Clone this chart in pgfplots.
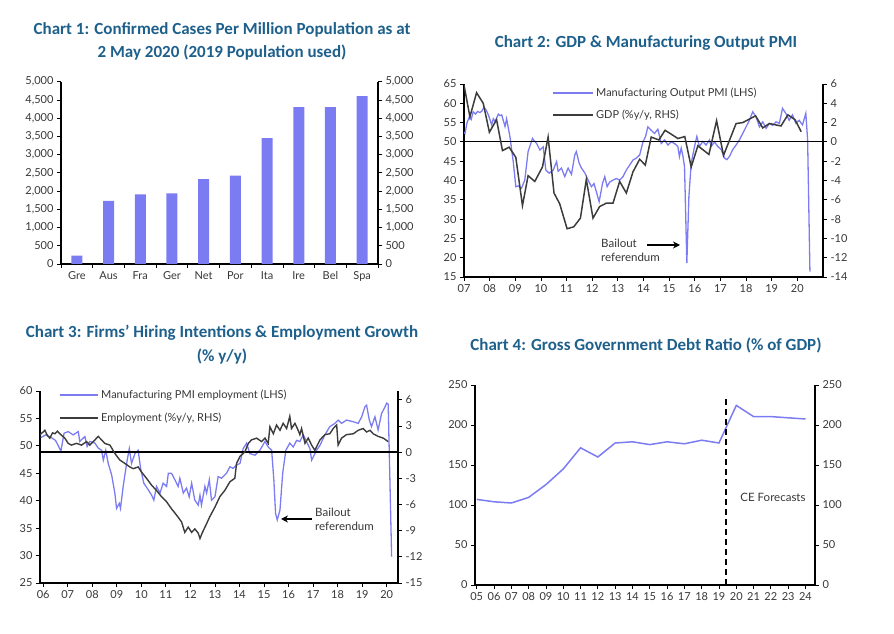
\documentclass[border=0pt]{standalone}
\usepackage{fontspec}
\setmainfont{Lato}
\newfontfamily\titlefont{Carlito}
\usepackage{pgfplots}
\pgfplotsset{compat=1.18}
\usetikzlibrary{arrows.meta}

\definecolor{titleblue}{RGB}{30,96,140}
\definecolor{ceblue}{RGB}{124,124,242}
\definecolor{cegrey}{RGB}{60,60,60}
\definecolor{ticktext}{RGB}{55,55,55}

\pgfplotsset{
  ce/.style={
    scale only axis, anchor=south west,
    axis line style={line width=1.1pt, black},
    tick style={black, line width=0.8pt},
    tick align=outside, major tick length=4pt, minor tick length=4pt,
    tick label style={font=\fontsize{11}{12}\selectfont, text=ticktext},
    /pgf/number format/assume math mode=true,
    /pgf/number format/1000 sep={,},
    scaled ticks=false,
  },
  ceright/.style={ce, axis y line*=right, axis x line=none},
}

\begin{document}
\begin{tikzpicture}
\useasboundingbox (0,0) rectangle (894pt,634pt);

% ---------------- Chart 1 ----------------
\node[font=\titlefont\bfseries\fontsize{17}{23}\selectfont, text=titleblue, align=center]
  at (222pt,593pt) {Chart 1: Confirmed Cases Per Million Population as at\\2 May 2020 (2019 Population used)};

\begin{axis}[ce, at={(61pt,370pt)}, width=317pt, height=182.3pt,
  axis y line*=left, axis x line*=bottom,
  xmin=-0.5, xmax=9.5, ymin=0, ymax=5000,
  ytick={0,500,...,5000},
  xtick={0,...,9},
  xticklabels={Gre,Aus,Fra,Ger,Net,Por,Ita,Ire,Bel,Spa},
  major x tick style={draw=none},
  minor xtick={-0.5,0.5,...,9.5},
]
\addplot[ybar, bar width=11pt, fill=ceblue, draw=none] coordinates {
  (0,229) (1,1728) (2,1910) (3,1938) (4,2331)
  (5,2422) (6,3455) (7,4305) (8,4305) (9,4607)
};
\end{axis}
\begin{axis}[ceright, at={(61pt,370pt)}, width=317pt, height=182.3pt,
  xmin=-0.5, xmax=9.5, ymin=0, ymax=5000, ytick={0,500,...,5000}]
\addplot[draw=none] coordinates {(0,0)};
\end{axis}

% ---------------- Chart 2 ----------------
\node[font=\titlefont\bfseries\fontsize{17}{20}\selectfont, text=titleblue]
  at (646pt,591pt) {Chart 2: GDP \& Manufacturing Output PMI};

\begin{axis}[ce, at={(464pt,357pt)}, width=359pt, height=193pt,
  axis y line*=left, axis x line*=bottom,
  xmin=2007, xmax=2021, ymin=15, ymax=65,
  ytick={15,20,...,65},
  xtick={2007,...,2020},
  xticklabels={07,08,09,10,11,12,13,14,15,16,17,18,19,20},
]
\addplot[ceblue, line width=1.3pt] coordinates {
  (2007.00,52.5) (2007.04,52.2) (2007.12,55.0) (2007.21,56.5) (2007.28,55.8) (2007.36,57.8)
  (2007.45,57.2) (2007.53,57.9) (2007.62,57.6) (2007.70,58.0) (2007.78,59.0) (2007.86,58.3)
  (2007.95,57.0) (2008.08,54.4) (2008.14,56.0) (2008.21,55.3) (2008.34,57.2) (2008.40,56.8)
  (2008.47,57.0) (2008.60,54.0) (2008.66,56.0) (2008.79,51.4) (2008.92,44.9) (2009.02,38.4)
  (2009.12,38.6) (2009.24,38.0) (2009.37,40.1) (2009.50,47.5) (2009.67,50.9) (2009.75,50.2)
  (2009.83,49.6) (2009.96,47.9) (2010.09,48.7) (2010.19,42.7) (2010.32,41.9) (2010.48,42.7)
  (2010.61,44.9) (2010.67,42.4) (2010.80,43.2) (2010.93,41.0) (2011.06,43.2) (2011.19,41.6)
  (2011.32,46.6) (2011.38,47.5) (2011.49,44.5) (2011.58,43.2) (2011.71,42.0) (2011.84,40.1)
  (2011.97,38.4) (2012.07,39.2) (2012.16,37.1) (2012.27,34.5) (2012.40,39.2) (2012.49,41.0)
  (2012.58,38.4) (2012.68,39.6) (2012.81,40.1) (2012.94,40.5) (2013.07,40.1) (2013.20,41.0)
  (2013.33,42.7) (2013.46,44.0) (2013.59,45.3) (2013.72,45.8) (2013.85,46.6) (2013.98,50.0)
  (2014.08,51.4) (2014.17,53.9) (2014.30,53.0) (2014.43,52.2) (2014.56,53.3) (2014.69,49.6)
  (2014.82,50.5) (2014.95,49.2) (2015.08,50.0) (2015.21,49.6) (2015.34,48.8) (2015.40,46.2)
  (2015.47,48.4) (2015.53,46.6) (2015.60,43.6) (2015.69,18.6) (2015.77,35.8) (2015.86,44.5)
  (2015.99,48.8) (2016.08,51.4) (2016.18,48.8) (2016.31,50.1) (2016.44,49.2) (2016.57,50.5)
  (2016.64,48.8) (2016.77,50.0) (2016.90,48.8) (2017.03,48.0) (2017.16,45.8) (2017.25,45.4)
  (2017.35,46.2) (2017.48,48.0) (2017.61,49.2) (2017.74,50.5) (2017.87,52.2) (2018.00,53.9)
  (2018.13,55.6) (2018.26,57.8) (2018.39,56.5) (2018.52,53.9) (2018.65,55.2) (2018.78,53.5)
  (2018.91,54.8) (2019.04,54.3) (2019.17,55.2) (2019.30,54.8) (2019.42,58.7) (2019.55,57.4)
  (2019.68,55.6) (2019.81,57.0) (2019.94,54.8) (2020.07,55.6) (2020.20,54.4) (2020.33,57.4)
  (2020.40,50.5) (2020.49,16.4)
};
\end{axis}
\begin{axis}[ceright, at={(464pt,357pt)}, width=359pt, height=193pt,
  xmin=2007, xmax=2021, ymin=-14, ymax=6, ytick={-14,-12,...,6}]
\addplot[black, line width=1.2pt] coordinates {(2007,0) (2021,0)};
\addplot[cegrey, line width=1.5pt] coordinates {
  (2007.00,5.9) (2007.23,2.6) (2007.49,5.1) (2007.75,4.0) (2007.99,1.0) (2008.27,2.3)
  (2008.50,-0.9) (2008.76,-0.55) (2009.02,-1.6) (2009.28,-6.6) (2009.50,-3.5) (2009.76,-4.1)
  (2010.06,-2.6) (2010.28,0.5) (2010.51,-5.3) (2010.73,-6.4) (2011.02,-9.0) (2011.28,-8.8)
  (2011.54,-7.9) (2011.77,-3.9) (2012.03,-7.9) (2012.29,-6.7) (2012.55,-6.35) (2012.81,-6.35)
  (2013.07,-4.1) (2013.33,-5.3) (2013.59,-3.1) (2013.85,-1.8) (2014.07,-2.4) (2014.30,0.5)
  (2014.60,0.2) (2014.84,1.2) (2015.08,0.8) (2015.34,0.35) (2015.61,0.55) (2015.86,-2.6)
  (2016.12,-0.4) (2016.55,-1.3) (2016.85,2.2) (2017.12,-1.4) (2017.61,1.9) (2017.87,2.0)
  (2018.37,2.7) (2018.65,1.45) (2018.91,1.9) (2019.36,1.65) (2019.63,2.8) (2019.91,2.3)
  (2020.15,1.05)
};
\end{axis}
\draw[ceblue, line width=1.3pt] (553pt,541pt) -- (593pt,541pt);
\node[anchor=west, font=\fontsize{11}{12}\selectfont, text=ticktext, inner sep=1pt] at (595pt,541pt) {Manufacturing Output PMI (LHS)};
\draw[cegrey, line width=1.5pt] (553pt,519pt) -- (593pt,519pt);
\node[anchor=west, font=\fontsize{11}{12}\selectfont, text=ticktext, inner sep=1pt] at (595pt,519pt) {GDP (\%y/y, RHS)};
\node[anchor=west, align=left, font=\fontsize{11.5}{14}\selectfont, text=ticktext, inner sep=0pt] at (601pt,384pt) {Bailout\\referendum};
\draw[black, line width=1.4pt, -{Stealth[length=7pt,width=7pt]}] (647pt,389pt) -- (680pt,389pt);

% ---------------- Chart 3 ----------------
\node[font=\titlefont\bfseries\fontsize{17}{24}\selectfont, text=titleblue, align=center]
  at (222pt,289pt) {Chart 3: Firms’ Hiring Intentions \& Employment Growth\\(\% y/y)};

\begin{axis}[ce, at={(40pt,51pt)}, width=358pt, height=192pt,
  axis y line*=left, axis x line*=bottom,
  xmin=2005.87, xmax=2020.46, ymin=25, ymax=60,
  ytick={25,30,...,60},
  xtick={2006,...,2020},
  xticklabels={06,07,08,09,10,11,12,13,14,15,16,17,18,19,20},
]
\addplot[ceblue, line width=1.3pt] coordinates {
  (2005.90,51.5) (2006.10,52.0) (2006.30,51.6) (2006.50,51.0) (2006.62,50.0) (2006.72,49.0)
  (2006.85,52.3) (2007.02,52.6) (2007.22,52.0) (2007.43,52.6) (2007.49,50.8) (2007.70,51.7)
  (2007.79,49.9) (2007.90,50.8) (2008.11,50.5) (2008.24,49.6) (2008.38,49.2) (2008.45,47.4)
  (2008.55,49.2) (2008.65,46.8) (2008.79,44.7) (2008.92,41.4) (2008.99,38.6) (2009.10,39.5)
  (2009.15,38.6) (2009.26,42.6) (2009.40,46.8) (2009.51,49.5) (2009.60,46.8) (2009.74,48.6)
  (2009.87,49.2) (2009.97,45.9) (2010.10,43.2) (2010.28,42.0) (2010.42,41.0) (2010.51,40.1)
  (2010.62,42.6) (2010.76,41.4) (2010.89,43.2) (2011.03,42.6) (2011.10,45.0) (2011.23,45.0)
  (2011.37,43.8) (2011.50,42.6) (2011.57,44.1) (2011.71,41.4) (2011.84,42.3) (2011.95,40.7)
  (2012.05,43.2) (2012.18,40.1) (2012.32,39.2) (2012.39,41.0) (2012.45,39.2) (2012.59,42.6)
  (2012.66,41.4) (2012.77,43.8) (2012.86,40.1) (2013.00,40.7) (2013.13,44.4) (2013.27,44.1)
  (2013.47,45.0) (2013.61,46.2) (2013.74,45.9) (2013.88,46.5) (2014.02,46.8) (2014.15,49.5)
  (2014.29,50.5) (2014.42,48.6) (2014.63,48.3) (2014.83,49.2) (2015.04,50.8) (2015.17,49.8)
  (2015.31,49.2) (2015.40,43.8) (2015.47,37.7) (2015.54,36.5) (2015.65,38.3) (2015.76,45.0)
  (2015.89,49.2) (2016.05,50.5) (2016.19,49.8) (2016.33,51.0) (2016.46,50.8) (2016.60,52.0)
  (2016.73,50.8) (2016.87,49.5) (2016.94,47.4) (2017.01,48.0) (2017.14,49.2) (2017.28,50.1)
  (2017.48,52.0) (2017.68,53.5) (2017.89,54.1) (2018.02,54.7) (2018.16,54.1) (2018.36,54.7)
  (2018.64,54.4) (2018.84,54.1) (2018.98,55.3) (2019.11,57.1) (2019.18,57.4) (2019.29,54.7)
  (2019.38,53.5) (2019.52,55.3) (2019.65,52.9) (2019.79,55.9) (2019.93,57.1) (2020.00,57.8)
  (2020.06,57.6) (2020.20,29.8)
};
\end{axis}
\begin{axis}[ceright, at={(40pt,51pt)}, width=358pt, height=192pt,
  xmin=2005.87, xmax=2020.46, ymin=-15, ymax=7, ytick={-15,-12,...,6}]
\addplot[black, line width=1.2pt] coordinates {(2005.87,0) (2020.46,0)};
\addplot[cegrey, line width=1.4pt] coordinates {
  (2005.86,1.95) (2006.07,2.5) (2006.17,1.9) (2006.27,1.6) (2006.38,2.2) (2006.48,2.1)
  (2006.58,2.4) (2006.68,2.1) (2006.88,1.6) (2007.02,1.0) (2007.15,0.8) (2007.36,1.0)
  (2007.56,0.8) (2007.77,1.2) (2007.90,0.8) (2008.11,1.4) (2008.24,1.8) (2008.38,1.4)
  (2008.51,1.0) (2008.72,0.8) (2008.92,-0.15) (2009.12,-0.9) (2009.33,-1.3) (2009.53,-1.7)
  (2009.67,-1.9) (2009.87,-1.7) (2010.01,-2.3) (2010.21,-3.0) (2010.42,-3.8) (2010.62,-4.4)
  (2010.82,-5.1) (2011.03,-5.7) (2011.23,-6.5) (2011.43,-7.2) (2011.64,-8.0) (2011.77,-9.2)
  (2011.91,-8.6) (2012.05,-9.2) (2012.18,-8.8) (2012.32,-9.3) (2012.39,-9.9) (2012.49,-9.2)
  (2012.66,-8.2) (2012.79,-7.4) (2013.00,-6.3) (2013.20,-5.1) (2013.40,-4.4) (2013.61,-3.4)
  (2013.81,-3.0) (2013.88,-1.3) (2014.02,-0.5) (2014.22,0.04) (2014.36,1.0) (2014.49,1.4)
  (2014.70,1.6) (2014.90,1.2) (2015.04,1.6) (2015.17,1.0) (2015.24,2.9) (2015.38,2.1)
  (2015.51,3.1) (2015.65,2.5) (2015.78,3.3) (2015.92,2.7) (2016.05,4.1) (2016.12,2.7)
  (2016.26,3.3) (2016.39,2.5) (2016.46,2.0) (2016.53,2.7) (2016.67,1.0) (2016.80,1.6)
  (2016.94,0.8) (2017.07,0.2) (2017.28,1.4) (2017.48,2.0) (2017.68,2.1) (2017.82,2.7)
  (2017.96,3.1) (2018.02,0.8) (2018.16,1.6) (2018.36,2.0) (2018.64,2.1) (2018.84,2.5)
  (2019.04,2.7) (2019.18,2.3) (2019.32,2.5) (2019.45,2.1) (2019.65,1.8) (2019.86,1.6)
  (2020.06,1.2)
};
\end{axis}
\draw[ceblue, line width=1.3pt] (60pt,239pt) -- (98pt,239pt);
\node[anchor=west, font=\fontsize{11}{12}\selectfont, text=ticktext, inner sep=1pt] at (100pt,239pt) {Manufacturing PMI employment (LHS)};
\draw[cegrey, line width=1.5pt] (60pt,216pt) -- (98pt,216pt);
\node[anchor=west, font=\fontsize{11}{12}\selectfont, text=ticktext, inner sep=1pt] at (100pt,216pt) {Employment (\%y/y, RHS)};
\node[anchor=west, align=left, font=\fontsize{11.5}{14}\selectfont, text=ticktext, inner sep=0pt] at (315pt,115pt) {Bailout\\referendum};
\draw[black, line width=1.4pt, -{Stealth[length=7pt,width=7pt]}] (312pt,115pt) -- (281pt,115pt);

% ---------------- Chart 4 ----------------
\node[font=\titlefont\bfseries\fontsize{17}{20}\selectfont, text=titleblue]
  at (646pt,289pt) {Chart 4: Gross Government Debt Ratio (\% of GDP)};

\begin{axis}[ce, at={(475pt,49pt)}, width=340pt, height=200pt,
  axis y line*=left, axis x line*=bottom,
  xmin=2004.9, xmax=2024.55, ymin=0, ymax=250,
  ytick={0,50,...,250},
  xtick={2005,...,2024},
  xticklabels={05,06,07,08,09,10,11,12,13,14,15,16,17,18,19,20,21,22,23,24},
]
\addplot[ceblue, line width=1.5pt] coordinates {
  (2005,107) (2006,104) (2007,102.5) (2008,109.5) (2009,125.5) (2010,145)
  (2011,171.5) (2012,160) (2013,177.5) (2014,179) (2015,175.5) (2016,179)
  (2017,176.5) (2018,181) (2019,177.5) (2020,224.5) (2021,210.5) (2022,210.5)
  (2023,209) (2024,207.5)
};
\addplot[black, line width=1.6pt, dash pattern=on 6pt off 4pt] coordinates {(2019.4,0) (2019.4,235)};
\end{axis}
\begin{axis}[ceright, at={(475pt,49pt)}, width=340pt, height=200pt,
  xmin=2004.9, xmax=2024.55, ymin=0, ymax=250, ytick={0,50,...,250}]
\addplot[draw=none] coordinates {(2005,0)};
\end{axis}
\node[font=\fontsize{11.5}{13}\selectfont, text=ticktext] at (773pt,137pt) {CE Forecasts};

\end{tikzpicture}
\end{document}
